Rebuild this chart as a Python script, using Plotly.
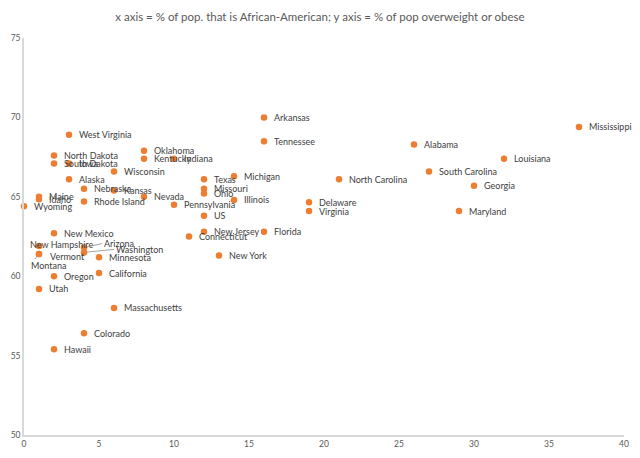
import plotly.graph_objects as go

# % of population that is African-American vs % overweight or obese
states = [
    "Mississippi", "Alabama", "Louisiana", "South Carolina", "Georgia", "Maryland",
    "Arkansas", "Tennessee", "Oklahoma", "Kentucky", "Indiana", "Texas", "Michigan",
    "North Carolina", "Missouri", "Ohio", "Illinois", "Delaware", "Virginia",
    "Pennsylvania", "US", "New Jersey", "Florida", "Connecticut", "New York",
    "Wisconsin", "Nebraska", "Kansas", "Nevada", "Rhode Island", "West Virginia",
    "North Dakota", "South Dakota", "Iowa", "Alaska", "Maine", "Idaho", "Wyoming",
    "New Mexico", "New Hampshire", "Vermont", "Montana", "Arizona", "Washington",
    "Minnesota", "California", "Oregon", "Utah", "Massachusetts", "Colorado", "Hawaii",
]
pct_black = [
    37, 26, 32, 27, 30, 29,
    16, 16, 8, 8, 10, 12, 14,
    21, 12, 12, 14, 19, 19,
    10, 12, 12, 16, 11, 13,
    6, 4, 6, 8, 4, 3,
    2, 2, 3, 3, 1, 1, 0,
    2, 1, 1, 1, 4, 4,
    5, 5, 2, 1, 6, 4, 2,
]
pct_overweight = [
    69.4, 68.3, 67.4, 66.6, 65.7, 64.1,
    70.0, 68.5, 67.9, 67.4, 67.4, 66.1, 66.3,
    66.1, 65.5, 65.2, 64.8, 64.65, 64.1,
    64.5, 63.8, 62.8, 62.8, 62.5, 61.3,
    66.6, 65.5, 65.4, 65.0, 64.7, 68.9,
    67.6, 67.1, 67.1, 66.1, 65.0, 64.85, 64.4,
    62.7, 61.9, 61.4, 61.4, 61.8, 61.5,
    61.2, 60.2, 60.0, 59.2, 58.0, 56.4, 55.4,
]

ORANGE = "#ED7D31"
GREY = "#595959"
FONT = "Lato"

# label placement tweaks (pixel offsets of the label's left edge from the dot)
label_shift = {
    "New Hampshire": (-11, -2, False),
    "Arizona": (18, -4, True),
    "Washington": (30, -3, True),
    "Vermont": (9, 3, False),
    "Montana": (-10, 12, True),
}

fig = go.Figure(go.Scatter(
    x=pct_black, y=pct_overweight, mode="markers",
    marker=dict(color=ORANGE, size=6.5),
    hoverinfo="text", text=states, cliponaxis=False,
))

annotations = []
for name, xv, yv in zip(states, pct_black, pct_overweight):
    dx, dy, leader = label_shift.get(name, (8, 0, False))
    ann = dict(x=xv, y=yv, text=name, xanchor="left", yanchor="middle",
               font=dict(family=FONT, size=9, color="#404040"))
    if leader:
        ann.update(showarrow=True, ax=dx, ay=dy, arrowhead=0, arrowwidth=0.8,
                   arrowcolor="#8c8c8c", standoff=3)
    else:
        ann.update(showarrow=False, xshift=dx, yshift=-dy)
    annotations.append(ann)

# the page body adds an 8px margin, so the figure is sized to fit inside it
fig.update_layout(
    width=624, height=442,
    margin=dict(l=16, r=8, t=30, b=15),
    paper_bgcolor="white", plot_bgcolor="white",
    title=dict(text="x axis = % of pop. that is African-American; y axis = % of pop overweight or obese",
               x=0.5, xanchor="center", yref="container", y=0.98, yanchor="middle",
               font=dict(family=FONT, size=11.5, color=GREY)),
    showlegend=False,
    annotations=annotations,
    font=dict(family=FONT),
)
fig.update_xaxes(range=[0, 40], dtick=5, showgrid=False, zeroline=False,
                 showline=True, linecolor="#D9D9D9", linewidth=1.5, automargin=False,
                 tickfont=dict(family=FONT, size=8.5, color=GREY), ticks="")
fig.update_yaxes(range=[50, 75], dtick=5, showgrid=False, zeroline=False,
                 showline=True, linecolor="#D9D9D9", linewidth=1.5, automargin=False,
                 tickfont=dict(family=FONT, size=8.5, color=GREY), ticks="")

fig.write_html("out.html")
